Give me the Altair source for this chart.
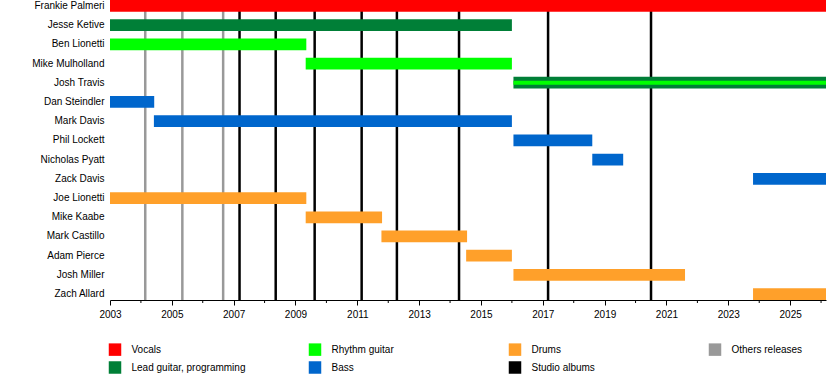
import altair as alt
import pandas as pd

# Band members, top to bottom
members = [
    "Frankie Palmeri", "Jesse Ketive", "Ben Lionetti", "Mike Mulholland",
    "Josh Travis", "Dan Steindler", "Mark Davis", "Phil Lockett",
    "Nicholas Pyatt", "Zack Davis", "Joe Lionetti", "Mike Kaabe",
    "Mark Castillo", "Adam Pierce", "Josh Miller", "Zach Allard",
]

START = 2003.0
END = 2026.16

# Tenures (decimal years)
bar_member = [
    "Frankie Palmeri", "Jesse Ketive", "Ben Lionetti", "Mike Mulholland",
    "Josh Travis", "Dan Steindler", "Mark Davis", "Phil Lockett",
    "Nicholas Pyatt", "Zack Davis", "Joe Lionetti", "Mike Kaabe",
    "Mark Castillo", "Adam Pierce", "Josh Miller", "Zach Allard",
]
bar_start = [2003.0, 2003.0, 2003.0, 2009.33, 2016.05, 2003.0, 2004.42, 2016.05,
             2018.6, 2023.8, 2003.0, 2009.33, 2011.78, 2014.52, 2016.05, 2023.8]
bar_end = [END, 2016.0, 2009.35, 2016.0, END, 2004.43, 2016.0, 2018.6,
           2019.6, END, 2009.35, 2011.8, 2014.55, 2016.0, 2021.6, END]
bar_role = [
    "Vocals", "Lead guitar, programming", "Rhythm guitar", "Rhythm guitar",
    "Lead guitar, programming", "Bass", "Bass", "Bass",
    "Bass", "Bass", "Drums", "Drums",
    "Drums", "Drums", "Drums", "Drums",
]

# Secondary role drawn as a stripe inside the main bar
stripe_member = ["Josh Travis"]
stripe_start = [2016.05]
stripe_end = [END]
stripe_role = ["Rhythm guitar"]

# Release dates
studio_years = [2007.19, 2008.36, 2009.62, 2011.14, 2012.28, 2014.29, 2017.17, 2020.5]
other_years = [2004.14, 2005.34, 2006.66]

# Axis years
label_years = list(range(2003, 2026, 2))
minor_years = list(range(2004, 2027, 2))

legend_order = [
    "Vocals", "Lead guitar, programming", "Rhythm guitar", "Bass",
    "Drums", "Studio albums", "Others releases",
]
legend_colors = ["#ff0000", "#007f37", "#00ff00", "#0066cc",
                 "#ffa02a", "#000000", "#999999"]

FONT = "Liberation Sans"

bars = pd.DataFrame({"member": bar_member, "start": bar_start,
                     "end": bar_end, "role": bar_role})
stripes = pd.DataFrame({"member": stripe_member, "start": stripe_start,
                        "end": stripe_end, "role": stripe_role})
events = pd.DataFrame({
    "year": studio_years + other_years,
    "role": ["Studio albums"] * len(studio_years) + ["Others releases"] * len(other_years),
})
minor = pd.DataFrame({"year": minor_years})

xscale = alt.Scale(domain=[START, END], nice=False, zero=False)
color_scale = alt.Scale(domain=legend_order, range=legend_colors)

legend = alt.Legend(
    title=None, orient="none", legendX=-1.5, legendY=343,
    columns=4, gridAlign="all", columnPadding=63, rowPadding=5,
    symbolType="square", symbolSize=156, symbolStrokeWidth=0,
    symbolOpacity=1, labelFont=FONT, labelFontSize=10,
    labelColor="black", labelOffset=10, padding=0,
)

x_axis = alt.Axis(
    title=None, values=label_years, format="d", grid=False,
    labelFont=FONT, labelFontSize=10, labelColor="black",
    tickSize=5, tickColor="black", domainColor="black", labelPadding=4,
    labelFlush=False,
)

y_enc = alt.Y(
    "member:N", sort=members,
    scale=alt.Scale(domain=members, paddingInner=0.39, paddingOuter=0),
    axis=alt.Axis(title=None, ticks=False, domain=False, labelPadding=6,
                  labelFont=FONT, labelFontSize=10, labelColor="black"),
)

color_enc = alt.Color("role:N", scale=color_scale, legend=legend)

# Release markers sit behind the tenure bars
lines = alt.Chart(events).mark_rule(strokeWidth=2.5).encode(
    x=alt.X("year:Q", scale=xscale, axis=x_axis),
    color=color_enc,
)

bar_layer = alt.Chart(bars).mark_bar(cornerRadius=0).encode(
    x=alt.X("start:Q", scale=xscale, axis=x_axis),
    x2="end:Q",
    y=y_enc,
    color=color_enc,
)

stripe_layer = alt.Chart(stripes).mark_rule(strokeWidth=4).encode(
    x=alt.X("start:Q", scale=xscale),
    x2="end:Q",
    y=y_enc,
    color=color_enc,
)

# Short unlabeled ticks on even years
minor_ticks = alt.Chart(minor).mark_rule(color="black", strokeWidth=1).encode(
    x=alt.X("year:Q", scale=xscale),
    y=alt.value(300),
    y2=alt.value(303),
)

chart = alt.layer(lines, bar_layer, stripe_layer, minor_ticks).properties(
    width=716, height=300,
    autosize=alt.AutoSizeParams(type="none"),
    padding={"left": 110, "top": 0, "right": 14, "bottom": 90},
    background="white",
).configure_view(stroke="transparent")

chart.save("out.html", embed_options={"renderer": "svg", "actions": False})
